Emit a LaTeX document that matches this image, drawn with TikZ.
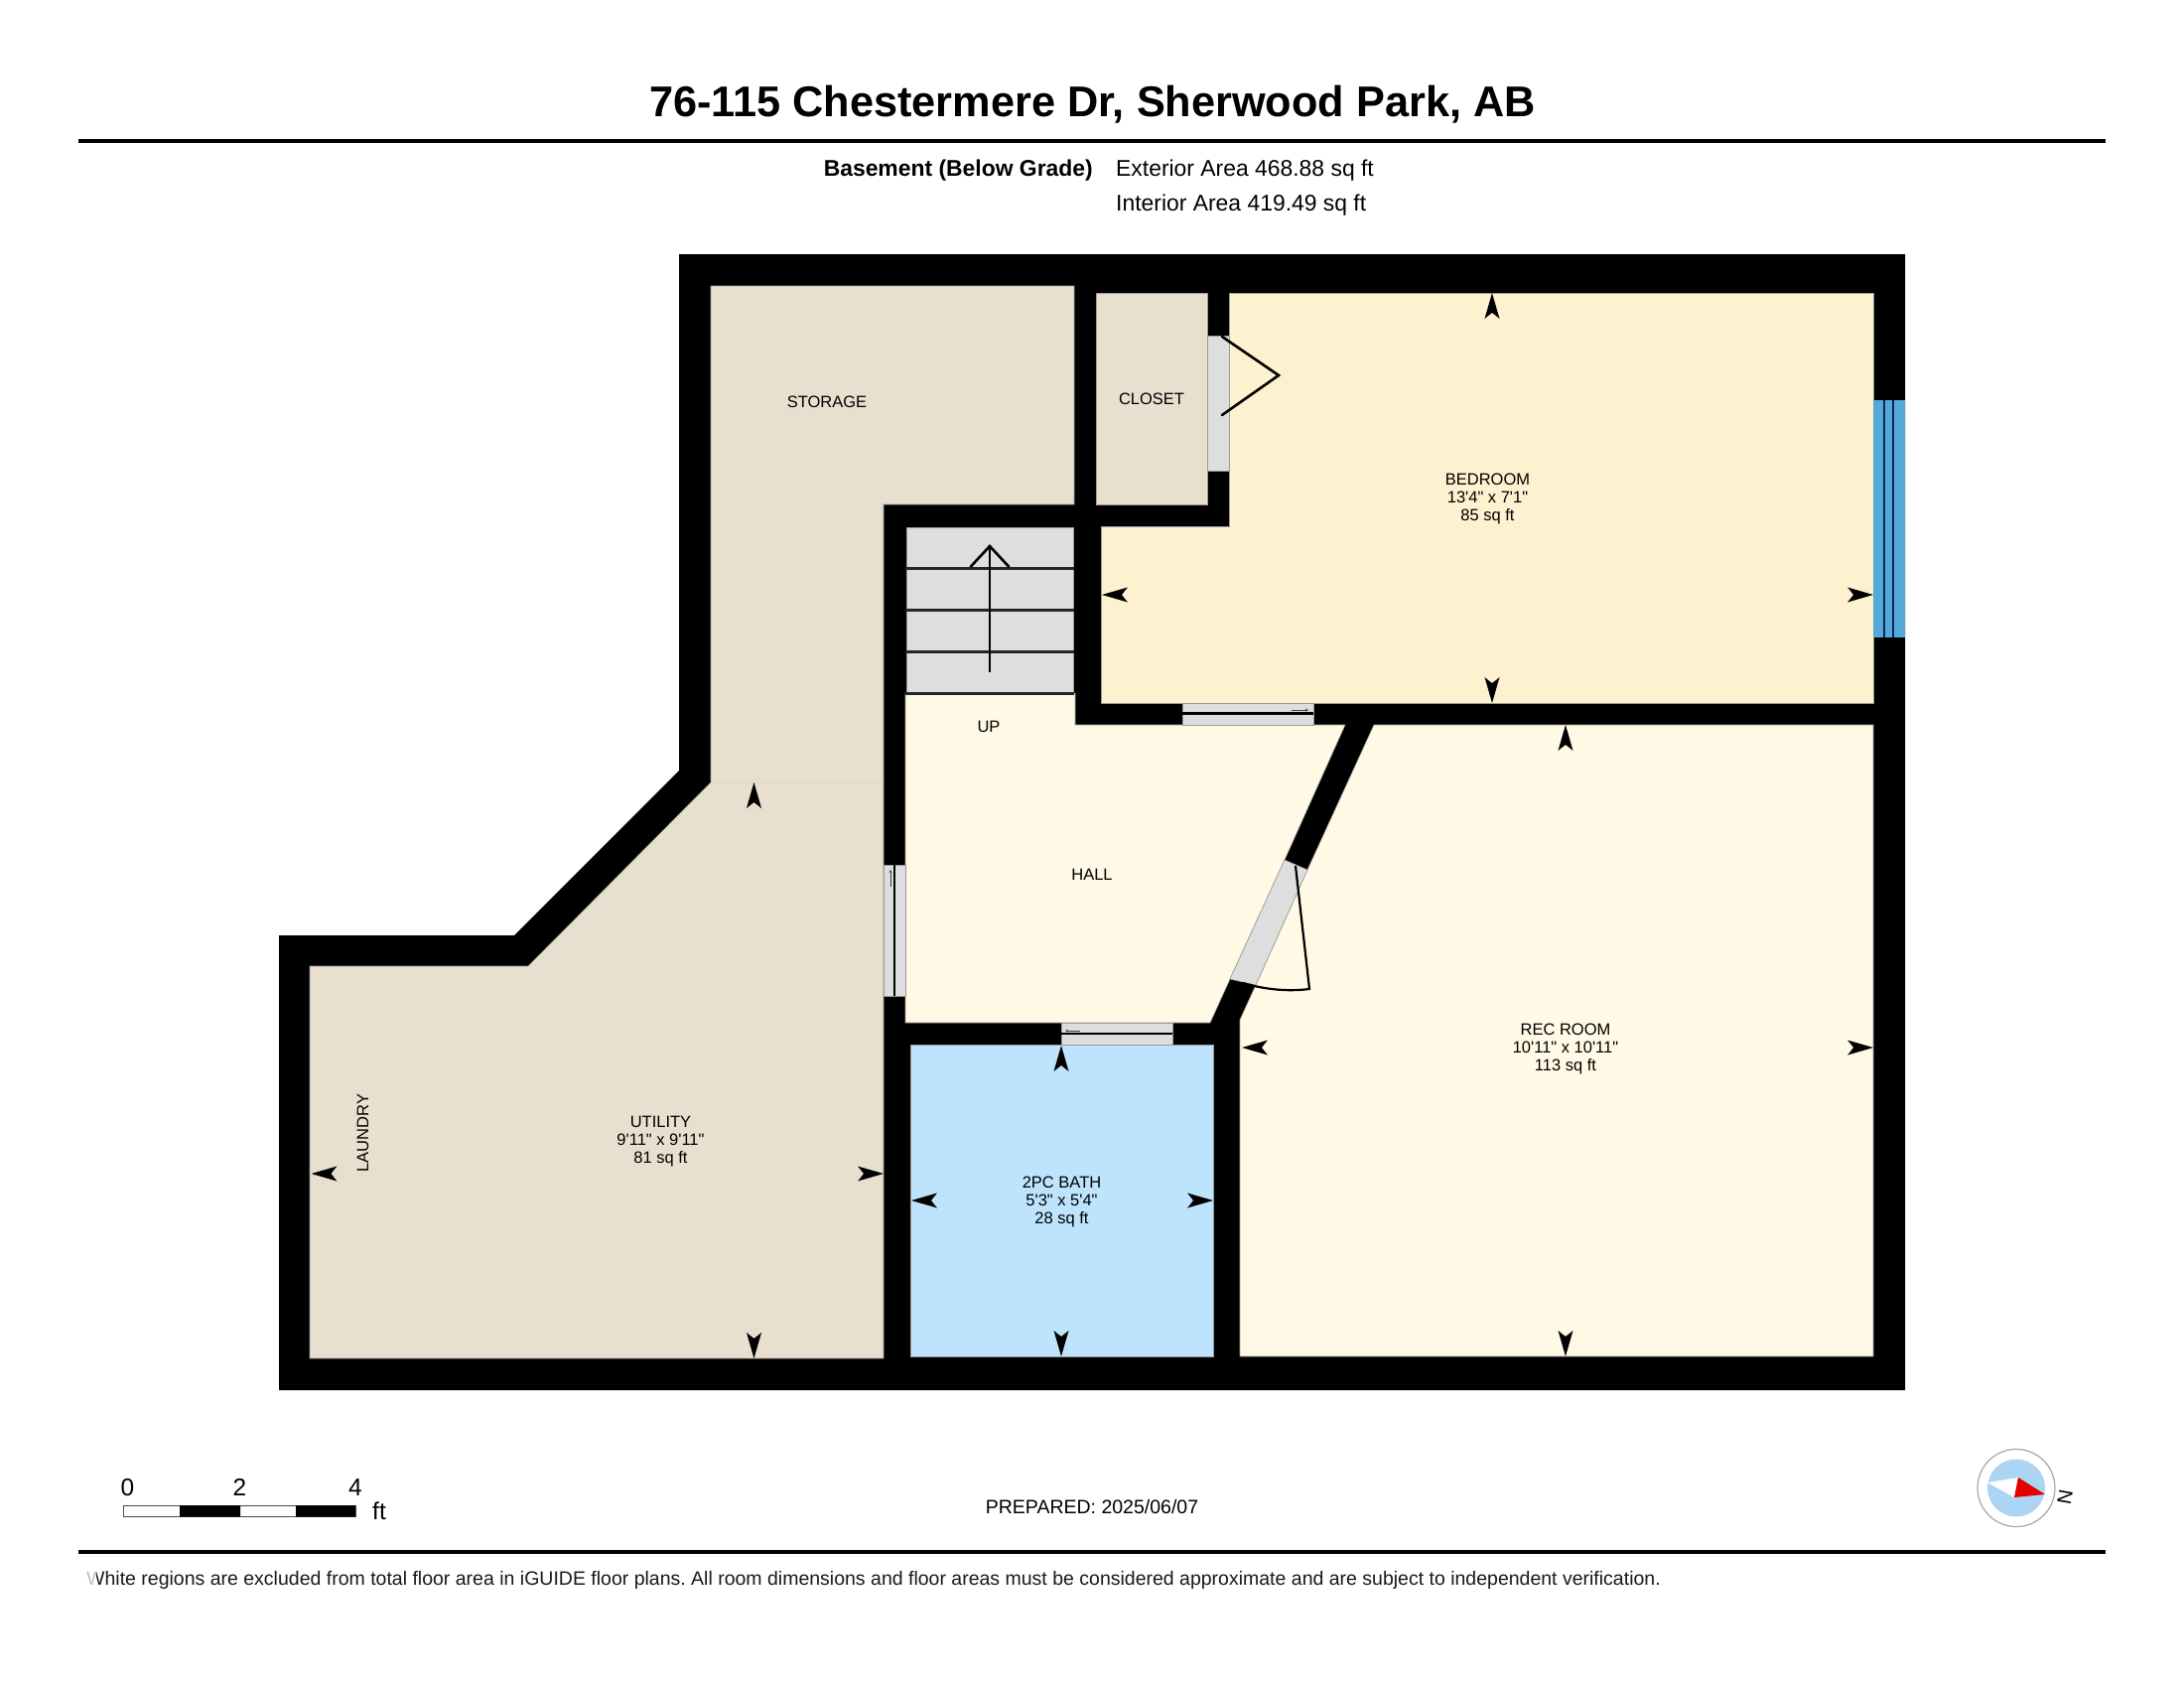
\documentclass[tikz,border=0pt]{standalone}
\usepackage{fontspec}
\setmainfont{Liberation Sans}[Ligatures=TeXOff]
\definecolor{tan}{HTML}{E8DFCF}
\definecolor{bedc}{HTML}{FEF1D0}
\definecolor{recc}{HTML}{FFF9E5}
\definecolor{bathc}{HTML}{BEE3FD}
\definecolor{doorc}{HTML}{DEDEDE}
\definecolor{winc}{HTML}{55A9DA}
\definecolor{winl}{HTML}{0A2A55}
\definecolor{edgec}{HTML}{9A9A9A}
\definecolor{compassb}{HTML}{ABD5F3}
\newcommand{\dimarrow}[3]{\fill[black,shift={(#1,#2)},rotate=#3] (0,0) -- (-26,7.5) .. controls (-22,3) and (-21,1) .. (-20,0) .. controls (-21,-1) and (-22,-3) .. (-26,-7.5) -- cycle;}
\tikzset{
  room/.style={draw=edgec,line width=0.6pt,line join=miter},
  doorway/.style={fill=doorc,draw=edgec,line width=0.6pt},
  doorline/.style={draw=black,line width=2.5pt},
  swingline/.style={draw=black,line width=2.6pt,line cap=round,line join=miter},
  thinarrow/.style={draw=black!75,line width=0.6pt,-{Stealth[length=3pt,width=3pt]}},
  roomlabel/.style={font=\fontsize{16.5}{18}\selectfont,align=center,text=black,inner sep=0pt},
  info/.style={font=\fontsize{22.9}{24}\selectfont,anchor=west,inner sep=0pt},
  rule/.style={draw=black,line width=4pt},
}
\usetikzlibrary{arrows.meta}
\begin{document}
\begin{tikzpicture}[x=1pt,y=-1pt]
\frenchspacing
\useasboundingbox (0,0) rectangle (2200,1700);
\fill[white] (0,0) rectangle (2200,1700);
% header
\node[inner sep=0pt,font=\fontsize{43.3}{46}\selectfont\bfseries] (title) at (1100.5,105.5) {76-115 Chestermere Dr, Sherwood Park, AB};
\draw[rule] (79,141.5) -- (2121,141.5);
\node[info,anchor=east,font=\fontsize{22.9}{24}\selectfont\bfseries] (floor) at (1101,172) {Basement (Below Grade)};
\node[info] (ext) at (1124,172) {Exterior Area 468.88 sq ft};
\node[info] (int) at (1124,207) {Interior Area 419.49 sq ft};
% walls
\fill[black] (684,256) -- (1919,256) -- (1919,1400) -- (281,1400) -- (281,942) -- (518,942) -- (684,776) -- cycle;
% rooms
\fill[tan,room] (716,288) -- (1082,288) -- (1082,508) -- (890,508) -- (890,1368) -- (312,1368) -- (312,973) -- (532,973) -- (716,788) -- cycle;
\draw[draw=tan!96!black,line width=0.6pt] (716,788) -- (890,788);
\fill[tan,room] (1104,295) rectangle (1216,508);
\fill[bedc,room] (1238,295) -- (1887,295) -- (1887,708) -- (1109,708) -- (1109,530) -- (1238,530) -- cycle;
\fill[recc,room] (1384,730) -- (1887,730) -- (1887,1366) -- (1249,1366) -- (1249,1027) -- (1265,992) -- (1317,876) -- cycle;
\fill[recc,room] (912,698) -- (1083,698) -- (1083,730) -- (1355,730) -- (1294,866) -- (1239,986) -- (1219,1030) -- (912,1030) -- cycle;
\fill[bathc,room] (917,1052) rectangle (1222,1366);
% stairs
\fill[doorway] (913,531) rectangle (1081,698);
\draw[draw=black!85,line width=3pt] (912,572) -- (1082,572) (912,614) -- (1082,614) (912,656) -- (1082,656) (912,698) -- (1082,698);
\draw[swingline,line cap=butt] (997,677) -- (997,552);
\draw[swingline,line cap=butt] (977.5,571) -- (997,550) -- (1016.5,571);
% window
\fill[winc] (1887,403) rectangle (1919,642);
\draw[winl,line width=1.2pt] (1898,403) -- (1898,642) (1907,403) -- (1907,642);
% doors
\fill[doorway] (1216,338) rectangle (1238,474);
\draw[swingline] (1231,339) -- (1288,378) -- (1231,418);
\fill[doorway] (1191,708) rectangle (1323,730);
\draw[doorline] (1191,718.5) -- (1323,718.5);
\draw[thinarrow] (1301,715) -- (1318,715);
\fill[doorway] (890,871) rectangle (912,1003);
\draw[doorline] (901,871) -- (901,1003);
\draw[thinarrow] (897,893) -- (897,876);
\fill[doorway] (1069,1030) rectangle (1181,1052);
\draw[doorline] (1069,1041) -- (1181,1041);
\draw[thinarrow] (1088,1038) -- (1073,1038);
\fill[doorway] (1294,866) -- (1317,876) -- (1265,992) -- (1239,986) -- cycle;
\draw[draw=black,line width=2.2pt] (1305,872) -- (1319,996) .. controls (1296,999) and (1272,996) .. (1252,990);
% dimension arrows
\dimarrow{1503}{295}{90}
\dimarrow{1503}{708}{-90}
\dimarrow{1110}{599}{180}
\dimarrow{1887}{599}{0}
\dimarrow{1577}{730}{90}
\dimarrow{1577}{1366}{-90}
\dimarrow{1251}{1055}{180}
\dimarrow{1887}{1055}{0}
\dimarrow{1069}{1053}{90}
\dimarrow{1069}{1366}{-90}
\dimarrow{918}{1209}{180}
\dimarrow{1222}{1209}{0}
\dimarrow{759.5}{788}{90}
\dimarrow{759.5}{1368}{-90}
\dimarrow{313.5}{1182}{180}
\dimarrow{890}{1182}{0}
% room labels
\node[roomlabel] (storage) at (833,405) {STORAGE};
\node[roomlabel] (closet) at (1160,402) {CLOSET};
\node[roomlabel] (bedroom) at (1498.5,502.5) {BEDROOM\\13'4" x 7'1"\\85 sq ft};
\node[roomlabel] (up) at (996,732) {UP};
\node[roomlabel] (hall) at (1100,880.5) {HALL};
\node[roomlabel] (rec) at (1577,1056.5) {REC ROOM\\10'11" x 10'11"\\113 sq ft};
\node[roomlabel] (bath) at (1069.5,1210.5) {2PC BATH\\5'3" x 5'4"\\28 sq ft};
\node[roomlabel] (utility) at (665.5,1149.5) {UTILITY\\9'11" x 9'11"\\81 sq ft};
\node[roomlabel,rotate=90] (laundry) at (365.5,1141) {LAUNDRY};
% scale bar
\draw[draw=black!70,fill=white,line width=1pt] (124.5,1516.5) rectangle (358,1527);
\fill[black] (181,1516) rectangle (242,1527.5) (298,1516) rectangle (358,1527.5);
\node[inner sep=0pt,font=\fontsize{24.5}{26}\selectfont] (s0) at (128.5,1498) {0};
\node[inner sep=0pt,font=\fontsize{24.5}{26}\selectfont] (s2) at (241.5,1498) {2};
\node[inner sep=0pt,font=\fontsize{24.5}{26}\selectfont] (s4) at (358,1498) {4};
\node[inner sep=0pt,font=\fontsize{24.5}{26}\selectfont] (sft) at (382,1522) {ft};
% prepared
\node[inner sep=0pt,font=\fontsize{19.5}{22}\selectfont] (prep) at (1100,1517.5) {PREPARED: 2025/06/07};
% compass
\draw[draw=black!35,fill=white,line width=1.2pt] (2031,1498.5) circle (39);
\fill[compassb] (2031,1498.5) circle (29);
\fill[white] (2002,1493) -- (2033,1488) -- (2029,1508) -- cycle;
\fill[red!90!black] (2033,1488) -- (2029,1508) -- (2060,1505) -- cycle;
\node[inner sep=0pt,rotate=-100,font=\fontsize{20}{22}\selectfont] (north) at (2080,1508) {N};
% footer
\draw[rule] (79,1562.5) -- (2121,1562.5);
\node[inner sep=0pt,anchor=west,font=\fontsize{19.5}{22}\selectfont,text=black!90] (foot) at (87,1591) {White regions are excluded from total floor area in iGUIDE floor plans. All room dimensions and floor areas must be considered approximate and are subject to independent verification.};
\fill[white,opacity=.72] (85,1579) rectangle (97,1603);
\end{tikzpicture}
\end{document}
